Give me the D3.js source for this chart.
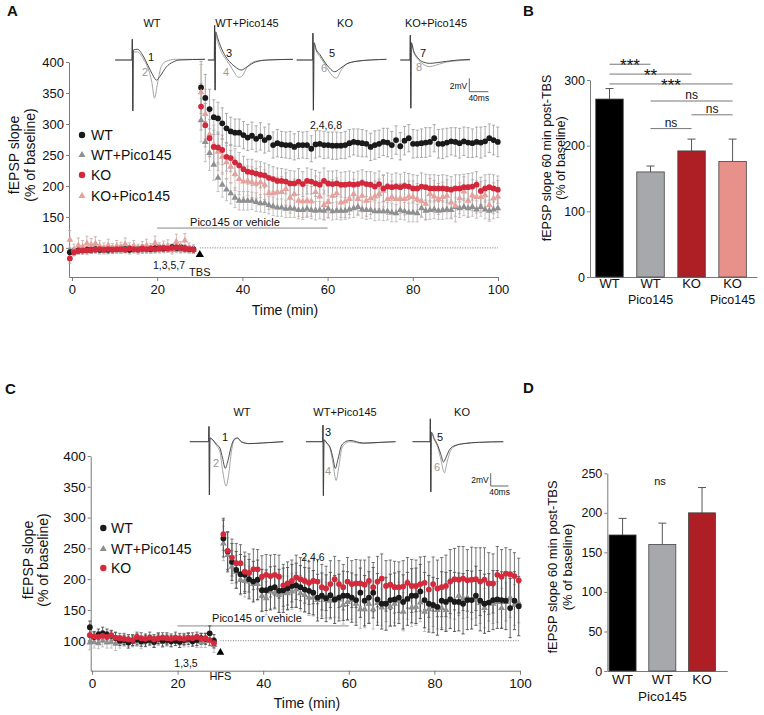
<!DOCTYPE html>
<html><head><meta charset="utf-8">
<script src="https://cdn.jsdelivr.net/npm/d3@7"></script>
<style>
body{margin:0;background:#fff;}
svg text{font-family:"Liberation Sans",Arial,Helvetica,sans-serif;fill:#111;}
</style></head><body>
<svg id="chart" width="764" height="715"></svg>
<script>
// ================= DATA =================
// Panel A (TBS) time course, % of baseline
const aTicksX = [0,20,40,60,80,100];
const aTicksY = [100,150,200,250,300,350,400];
const aWT_base = [93,95,96,96,97,97,98,97,98,97,98,98,99,98,97,99,98,99,99,98,99,100,99,100,101,100,101,99,98,98];
const aWP_base = [95,94,95,96,95,96,97,96,95,96,97,96,97,97,96,97,98,97,96,97,98,97,98,98,97,98,97,98,97,97];
const aKO_base = [83,93,95,96,96,97,97,98,97,98,97,98,98,97,99,98,97,99,98,99,98,99,100,99,100,101,100,99,98,97];
const aKP_base = [113,97,104,102,107,105,107,103,100,104,99,103,101,106,100,103,98,101,104,99,108,100,102,103,98,110,101,112,100,98];
const aWT_baseErr = [6,5,5,6,5,5,6,5,5,6,5,5,6,5,5,6,5,6,5,5,6,5,5,6,5,6,5,5,6,5];
const aWP_baseErr = [5,6,5,5,6,5,5,6,5,6,5,5,6,5,6,5,5,6,5,5,6,5,6,5,5,6,5,6,5,5];
const aKO_baseErr = [8,6,5,6,5,6,5,6,5,5,6,5,6,5,5,6,5,6,5,5,6,5,6,5,5,6,5,6,5,5];
const aKP_baseErr = [15,9,12,10,12,10,11,9,8,10,8,9,8,10,8,9,8,9,10,8,11,8,9,10,8,12,9,11,8,7];

const aWT_post = [359,342,324,311,309,301,293,288,286,286,282,278,281,276,280,274,278,266,269,267,266,266,263,266,266,266,260,267,268,266,266,265,265,265,266,
  269,271,270,269,268,263,266,268,271,270,266,274,264,273,277,268,268,269,270,271,277,268,268,270,272,271,269,272,270,269,271,270,272,277,274,271];
const aWP_post = [306,271,253,234,213,202,194,188,181,176,176,176,176,174,172,172,169,167,165,165,163,164,163,161,161,163,161,160,161,160,163,159,160,160,160,
  162,164,166,162,161,161,159,159,159,159,157,156,161,159,157,157,156,164,160,161,162,160,161,162,161,166,164,166,164,166,162,166,162,160,162,164];
const aKO_post = [328,298,277,263,262,258,247,245,238,233,227,223,222,220,218,217,213,211,208,208,207,204,204,207,203,208,207,204,202,208,204,203,204,202,202,
  203,202,203,205,203,202,199,203,196,199,198,199,198,200,199,196,196,199,198,196,196,196,196,195,194,196,196,198,198,199,202,192,196,198,196,194];
const aKP_post = [351,316,283,266,255,247,238,231,219,211,207,208,206,204,206,202,188,188,190,190,195,181,187,176,175,176,175,190,183,169,174,184,188,173,175,
  179,187,179,184,176,180,183,187,192,179,182,179,180,179,183,182,179,175,171,187,183,179,182,184,173,168,180,191,176,185,182,182,185,169,180,183];
const aWT_postErr = [42,38,32,28,26,25,24,23,22,22, 22,21,22,21,22,21,22,21,22,21, 21,22,21,22,21,22,21,22,21,22, 21,22,22,21,22,22,21,22,22,21,
  22,23,22,22,23,22,23,22,23,22, 23,22,23,24,23,22,23,24,23,22, 23,24,23,24,23,24,25,24,23,24, 24];
const aWP_postErr = [35,32,28,25,22,20,18,17,16,15, 15,15,14,15,14,15,14,15,14,14, 14,15,14,14,15,14,14,15,14,14, 15,14,14,15,14,14,15,14,14,15,
  14,15,14,15,14,15,14,15,14,15, 15,14,15,14,15,15,14,15,15,14, 15,15,14,15,15,14,15,15,14,15, 15];
const aKO_postErr = [38,35,30,27,25,24,23,22,22,21, 21,20,21,20,21,20,21,20,21,20, 20,21,20,21,20,21,20,21,20,21, 20,21,21,20,21,21,20,21,21,20,
  21,22,21,21,22,21,22,21,22,21, 22,21,22,21,22,22,21,22,22,21, 22,22,21,22,22,21,22,22,21,22, 22];
const aKP_postErr = [45,40,35,32,30,28,27,26,26,25, 25,24,25,24,25,24,26,25,24,25, 26,25,24,25,26,25,24,26,25,24, 25,26,25,24,26,25,24,25,26,25,
  26,25,24,26,25,26,25,24,26,25, 26,25,24,26,25,26,25,24,26,25, 26,25,24,26,25,26,25,24,26,25, 26];

// Panel B (TBS, 60 min post)
const bCats = ['WT','WT Pico145','KO','KO Pico145'];
const bLine1 = ['WT','WT','KO','KO'];
const bLine2 = ['','Pico145','','Pico145'];
const bValues = [271,160,192,176];
const bSem = [16,9,18,34];
const bTicks = [0,100,200,300];
const bSig = [ // [from, to, label, level (% units)]
  [0,1,'***',324],[0,2,'**',309],[0,3,'***',294],[1,3,'ns',268],[2,3,'ns',247],[1,2,'ns',226]
];

// Panel C (HFS) time course
const cTicksX = [0,20,40,60,80,100];
const cTicksY = [100,150,200,250,300,350,400];
const cWT_base = [122,106,110,112,110,108,104,100,101,97,100,102,99,100,101,98,103,100,101,99,100,98,101,103,99,101,104,103,112,100];
const cWP_base = [97,98,96,100,97,98,95,97,99,100,98,100,97,99,101,99,100,98,101,100,103,102,100,99,101,100,98,99,102,93];
const cKO_base = [109,107,106,108,106,109,105,104,103,102,101,106,104,103,105,102,104,105,104,103,105,104,103,105,104,106,103,104,101,96];
const cWT_baseErr = [10,8,9,10,9,8,9,8,8,9,8,9,8,9,8,9,8,9,8,9,8,9,8,9,8,9,8,9,12,10];
const cWP_baseErr = [12,10,9,10,9,10,11,9,8,9,8,9,10,9,8,9,8,9,10,9,8,9,10,9,8,11,9,10,9,12];
const cKO_baseErr = [9,8,9,8,9,8,9,8,9,8,9,8,9,8,9,8,9,8,9,8,9,8,9,8,9,8,9,8,9,8];
const cWT_post = [266,245,228,215,208,207,200,196,199,182, 182,185,187,181,182,185,189,190,187,183, 181,178,170,173,169,174,167,170,173,173, 170,166,178,
  165,170,178,167,160,160,166,167,170,163,168,173,173,180,166,160,158,155,165,163,167,163,163,160,166,166,173,165,160,162,166,167,166,165,153,165,156];
const cWP_post = [258,239,220,212,199,197,196,192,192,173, 169,180,178,174,178,177,180,183,177,174, 170,170,166,170,166,165,169,167,158,163, 166,160,151,
  151,160,151,161,154,162,155,160,165,147,167,154,155,162,147,151,155,150,153,150,169,166,173,169,170,166,169,161,153,163,160,163,153,163,170,158,161];
const cKO_post = [273,246,235,226,226,212,210,216,216,204, 207,205,207,204,190,193,197,203,200,197, 194,197,196,187,185,192,200,192,187,196, 192,193,193,
  191,197,187,196,201,189,191,187,187,188,194,189,189,192,194,183,192,185,187,189,196,200,199,201,198,199,200,196,199,193,193,207,204,209,208,205,198];
const cWT_postErr = [30,32,30,30,32,30,32,33,32,34, 33,35,34,35,36,34,35,36,35,36, 37,36,38,37,38,37,39,38,40,39, 40,41,40,
  41,42,41,42,41,43,42,43,42,44, 43,44,45,44,45,46,45,46,47,48, 47,48,47,49,48,47,48,49,48,47, 48,47,46,47,48,47,48];
const cWP_postErr = [28,28,27,26,25,26,25,26,27,26, 27,28,27,28,27,28,29,28,29,28, 29,30,29,30,29,30,31,30,31,30, 31,30,31,
  30,31,32,31,30,31,32,31,30,31, 32,31,30,31,32,33,32,31,32,33, 32,31,32,33,32,31,32,33,32,31, 32,33,32,31,32,33,32];
const cKO_postErr = [26,30,30,32,30,32,31,33,32,34, 33,34,33,35,34,35,34,36,35,36, 35,37,36,37,36,38,37,38,37,39, 38,39,38,
  40,39,40,41,40,41,40,42,41,42, 41,43,42,44,43,45,44,46,48,50, 52,50,54,52,50,53,51,55,52,50, 48,46,44,42,40,38,36];

// Panel D (HFS, 60 min post)
const dCats = ['WT','WT Pico145','KO'];
const dLine1 = ['WT','WT','KO'];
const dValues = [172,160,200];
const dSem = [21,27,32];
const dTicks = [0,50,100,150,200,250];

// Example fEPSP traces: [time ms relative to stimulus, mV]
const trA_WT_1 = [[-37,0],[-1.5,0],[-0.8,3.1],[0.2,-7.6],[1.5,1.5],[10,1.6],[22,0.6],[32,-0.8],[42,-2.2],[50,-3.0],[58,-2.4],[70,-1.1],[85,-0.3],[100,0],[152,0.1]];
const trA_WT_2 = [[-37,0],[-1.5,0],[-0.8,3.1],[0.2,-7.6],[1.5,1.2],[10,1.2],[22,0.2],[32,-1.2],[40,-3.2],[46,-5.7],[52,-3.6],[60,-1.0],[70,-0.2],[90,0.1],[152,0.1]];
const trA_WP_3 = [[-15,0],[-1.5,0],[-0.8,5.2],[0.2,-4.5],[1.5,4.2],[6,3.2],[12,2.0],[20,0.8],[30,-0.2],[42,-1.0],[55,-1.5],[68,-1.0],[85,-0.3],[110,0],[164,0.1]];
const trA_WP_4 = [[-15,0],[-1.5,0],[-0.8,5.2],[0.2,-4.5],[1.5,3.8],[6,2.6],[12,1.4],[20,0.4],[30,-0.6],[40,-1.8],[50,-2.6],[58,-2.3],[68,-1.0],[85,-0.2],[110,0],[164,0.1]];
const trA_KO_5 = [[-35,0],[-1.5,0],[-0.8,4.0],[0.2,-7.5],[1.5,2.6],[6,1.6],[14,0.8],[24,-0.3],[34,-1.2],[45,-1.75],[56,-1.3],[70,-0.6],[90,-0.2],[120,0],[154,0.1]];
const trA_KO_6 = [[-35,0],[-1.5,0],[-0.8,4.0],[0.2,-7.5],[1.5,2.4],[6,1.4],[14,0.5],[24,-0.6],[34,-1.8],[44,-2.6],[49,-2.7],[58,-1.6],[70,-0.6],[90,-0.2],[120,0],[154,0.1]];
const trA_KP_7 = [[-22,0],[-1.5,0],[-0.8,3.7],[0.2,-7.2],[1.5,2.6],[6,1.4],[14,0.4],[26,-0.3],[40,-0.5],[55,-0.4],[75,-0.2],[100,0],[125,0.1]];
const trA_KP_8 = [[-22,0],[-1.5,0],[-0.8,3.7],[0.2,-7.2],[1.5,2.4],[6,1.2],[14,0.2],[26,-0.6],[40,-1.0],[52,-0.8],[70,-0.4],[100,-0.1],[125,0]];
const trC_WT_1 = [[-44,0],[-1.5,0],[-0.8,2.4],[0.2,-8.4],[1.5,0.6],[8,0.3],[16,-0.4],[24,-1.0],[30,-2.6],[36,-4.2],[42,-3.0],[50,-0.6],[58,0.5],[64,0.6],[72,0],[90,-0.3],[120,-0.2],[167,0]];
const trC_WT_2 = [[-44,0],[-1.5,0],[-0.8,2.4],[0.2,-8.4],[1.5,0.5],[8,0.2],[16,-0.6],[24,-1.6],[30,-4.5],[38,-7.0],[44,-5.0],[50,-1.5],[58,0.4],[64,0.5],[72,0],[90,-0.3],[120,-0.2],[167,0]];
const trC_WP_3 = [[-39,0],[-1.5,0],[-0.8,2.6],[0.2,-8.5],[1.5,0.3],[8,-0.2],[16,-1.0],[22,-2.6],[27,-4.2],[33,-2.8],[40,-0.8],[48,-0.1],[60,0.2],[90,-0.2],[130,-0.1],[163,0]];
const trC_WP_4 = [[-39,0],[-1.5,0],[-0.8,2.6],[0.2,-8.5],[1.5,0.2],[8,-0.3],[16,-1.3],[22,-3.5],[29,-6.1],[35,-4.0],[42,-1.0],[50,-0.3],[60,0],[90,-0.3],[130,-0.1],[163,0]];
const trC_KO_5 = [[-41,0],[-1.5,0],[-0.8,3.6],[0.2,-7.9],[1.5,1.5],[8,0.5],[16,-0.6],[23,-2.0],[29,-3.2],[35,-2.4],[43,-1.2],[55,-0.6],[75,-0.3],[110,-0.1],[164,0]];
const trC_KO_6 = [[-41,0],[-1.5,0],[-0.8,3.6],[0.2,-7.9],[1.5,1.3],[8,0.3],[16,-0.9],[23,-2.8],[31,-4.9],[37,-3.2],[45,-1.4],[55,-0.7],[75,-0.3],[110,-0.1],[164,0]];

// ================= DRAWING =================
const svg = d3.select('#chart');
const AX = '#7a7a7a';

function styleAxis(sel, fs){
  sel.attr('font-family', null);
  sel.selectAll('path').attr('stroke', AX).attr('stroke-width', 1);
  sel.selectAll('line').attr('stroke', AX).attr('stroke-width', 1);
  sel.selectAll('text').attr('font-size', fs).attr('fill', '#111');
}
function panelLetter(t, x, y){
  svg.append('text').attr('x', x).attr('y', y).attr('font-size', 15).attr('font-weight', 'bold').text(t);
}
function yLabel(lines, cx, cy, fs){
  lines.forEach((l, i) => {
    svg.append('text').attr('transform', `translate(${cx[i]},${cy}) rotate(-90)`)
      .attr('text-anchor', 'middle').attr('font-size', fs).text(l);
  });
}

function timeCourse(x, y, series, tBase, tPost, r, tri){
  const g = svg.append('g');
  const prepared = series.map(s => {
    const v = s.base.concat(s.post), e = s.baseErr.concat(s.postErr), t = tBase.concat(tPost);
    return {s, pts: v.map((val, i) => ({t: t[i], v: val, e: e[i] || 0}))};
  });
  prepared.forEach(({s, pts}) => {
    const eg = g.append('g').attr('stroke', s.errColor).attr('stroke-width', 0.8);
    pts.forEach(p => {
      const xx = x(p.t);
      eg.append('line').attr('x1', xx).attr('x2', xx).attr('y1', y(p.v - p.e)).attr('y2', y(p.v + p.e));
      eg.append('line').attr('x1', xx - 1.6).attr('x2', xx + 1.6).attr('y1', y(p.v + p.e)).attr('y2', y(p.v + p.e));
      eg.append('line').attr('x1', xx - 1.6).attr('x2', xx + 1.6).attr('y1', y(p.v - p.e)).attr('y2', y(p.v - p.e));
    });
  });
  prepared.forEach(({s, pts}) => {
    const mg = g.append('g').attr('fill', s.color);
    if (s.shape === 'circle') {
      mg.selectAll('circle').data(pts).join('circle').attr('cx', d => x(d.t)).attr('cy', d => y(d.v)).attr('r', r);
    } else {
      const sym = d3.symbol().type(d3.symbolTriangle).size(tri);
      mg.selectAll('path').data(pts).join('path').attr('d', sym).attr('transform', d => `translate(${x(d.t)},${y(d.v)})`);
    }
  });
}

function legend(items, mx, tx, ys, r, tri, fs){
  items.forEach((s, i) => {
    if (s.shape === 'circle') svg.append('circle').attr('cx', mx).attr('cy', ys[i]).attr('r', r).attr('fill', s.color);
    else svg.append('path').attr('d', d3.symbol().type(d3.symbolTriangle).size(tri)).attr('transform', `translate(${mx},${ys[i]})`).attr('fill', s.color);
    svg.append('text').attr('x', tx).attr('y', ys[i] + fs * 0.36).attr('font-size', fs).text(s.name);
  });
}

function drawTrace(stimX, baseY, pxMs, pxMv, pts, color){
  const tx = d3.scaleLinear().domain([0, 40]).range([stimX, stimX + 40 * pxMs]);
  const ty = d3.scaleLinear().domain([0, 2]).range([baseY, baseY - 2 * pxMv]);
  const line = d3.line().x(d => tx(d[0])).y(d => ty(d[1])).curve(d3.curveMonotoneX);
  svg.append('path').attr('d', line(pts)).attr('fill', 'none').attr('stroke', color).attr('stroke-width', 0.9);
}
function scaleBar(x0, y0, pxMs, pxMv, fs){
  const g = svg.append('g').attr('stroke', '#555').attr('stroke-width', 0.9);
  g.append('line').attr('x1', x0).attr('x2', x0).attr('y1', y0).attr('y2', y0 - 2 * pxMv);
  g.append('line').attr('x1', x0).attr('x2', x0 + 40 * pxMs).attr('y1', y0).attr('y2', y0);
  svg.append('text').attr('x', x0 - 2).attr('y', y0 - 3).attr('text-anchor', 'end').attr('font-size', fs).text('2mV');
  svg.append('text').attr('x', x0 + 20 * pxMs).attr('y', y0 + fs + 0.5).attr('text-anchor', 'middle').attr('font-size', fs).text('40ms');
}

// ---------- Panel A ----------
panelLetter('A', 7, 16);
const xA = d3.scaleLinear().domain([-0.7, 100]).range([69, 498]);
const yA = d3.scaleLinear().domain([53, 400]).range([277, 62]);
const tBaseA = d3.range(aWT_base.length).map(i => i - 0.5);
const tPostA = d3.range(aWT_post.length).map(i => 30.3 + i * 0.995);
svg.append('g').attr('transform', 'translate(0,277)')
  .call(d3.axisBottom(xA).tickValues(aTicksX).tickSize(4).tickPadding(4).tickSizeOuter(0))
  .call(s => styleAxis(s, 13));
svg.append('g').attr('transform', 'translate(69,0)')
  .call(d3.axisLeft(yA).tickValues(aTicksY).tickSize(3).tickPadding(2).tickSizeOuter(0))
  .call(s => styleAxis(s, 13));
svg.append('text').attr('x', 285).attr('y', 315).attr('text-anchor', 'middle').attr('font-size', 14).text('Time (min)');
yLabel(['fEPSP slope', '(% of baseline)'], [19, 35], 155, 14);
// dotted baseline
svg.append('line').attr('x1', xA(30)).attr('x2', xA(100)).attr('y1', yA(100)).attr('y2', yA(100))
  .attr('stroke', '#555').attr('stroke-width', 0.8).attr('stroke-dasharray', '1,1.5');
// drug bar
svg.append('line').attr('x1', xA(20)).attr('x2', xA(60)).attr('y1', yA(132)).attr('y2', yA(132)).attr('stroke', '#888').attr('stroke-width', 1);
svg.append('text').attr('x', 235).attr('y', 226).attr('text-anchor', 'middle').attr('font-size', 11).text('Pico145 or vehicle');

const seriesA = [
  {name:'WT+Pico145', base:aWP_base, baseErr:aWP_baseErr, post:aWP_post, postErr:aWP_postErr, shape:'tri', color:'#8e8f91', errColor:'#b5b5b5'},
  {name:'WT', base:aWT_base, baseErr:aWT_baseErr, post:aWT_post, postErr:aWT_postErr, shape:'circle', color:'#1a1a1a', errColor:'#9a9a9a'},
  {name:'KO+Pico145', base:aKP_base, baseErr:aKP_baseErr, post:aKP_post, postErr:aKP_postErr, shape:'tri', color:'#e6a19c', errColor:'#c8a9a6'},
  {name:'KO', base:aKO_base, baseErr:aKO_baseErr, post:aKO_post, postErr:aKO_postErr, shape:'circle', color:'#d3283b', errColor:'#a5a5a5'}
];
timeCourse(xA, yA, seriesA, tBaseA, tPostA, 2.9, 20);
legend([seriesA[1], seriesA[0], seriesA[3], seriesA[2]], 82, 91, [135, 155, 175, 196], 3.2, 22, 14);
// TBS marker
svg.append('path').attr('d', d3.symbol().type(d3.symbolTriangle).size(30)).attr('transform', `translate(${xA(30)},${yA(89)})`).attr('fill', '#000');
svg.append('text').attr('x', xA(30)).attr('y', 276).attr('text-anchor', 'middle').attr('font-size', 11).text('TBS');
svg.append('text').attr('x', 169).attr('y', 269).attr('text-anchor', 'middle').attr('font-size', 10.5).text('1,3,5,7');
svg.append('text').attr('x', 326).attr('y', 129).attr('text-anchor', 'middle').attr('font-size', 10.5).text('2,4,6,8');

// traces A
const pxMsA = 0.475, pxMvA = 6.7;
const insetsA = [
  {title:'WT', tx:152, stim:132.7, k:trA_WT_1, g:trA_WT_2, nk:'1', pk:[151,57], ng:'2', pg:[145,72]},
  {title:'WT+Pico145', tx:247, stim:215, k:trA_WP_3, g:trA_WP_4, nk:'3', pk:[229,53], ng:'4', pg:[226,72]},
  {title:'KO', tx:345, stim:313.3, k:trA_KO_5, g:trA_KO_6, nk:'5', pk:[332,53], ng:'6', pg:[324,68]},
  {title:'KO+Pico145', tx:436, stim:410.7, k:trA_KP_7, g:trA_KP_8, nk:'7', pk:[423,53], ng:'8', pg:[419,67]}
];
insetsA.forEach(o => {
  svg.append('text').attr('x', o.tx).attr('y', 26.5).attr('text-anchor', 'middle').attr('font-size', 11).text(o.title);
  drawTrace(o.stim, 60, pxMsA, pxMvA, o.g, '#9a9a9a');
  drawTrace(o.stim, 60, pxMsA, pxMvA, o.k, '#3a3a3a');
  svg.append('text').attr('x', o.pk[0]).attr('y', o.pk[1] + 4).attr('text-anchor', 'middle').attr('font-size', 11).attr('fill', '#222').text(o.nk);
  svg.append('text').attr('x', o.pg[0]).attr('y', o.pg[1] + 4).attr('text-anchor', 'middle').attr('font-size', 11).style('fill', '#999').text(o.ng);
});
scaleBar(469.3, 91.7, pxMsA, pxMvA, 8.5);

// ---------- Panel B ----------
panelLetter('B', 523, 16);
const xB = d3.scaleBand().domain(bCats).range([590, 757]).paddingInner(0.33).paddingOuter(0.2).align(0.35);
const yB = d3.scaleLinear().domain([0, 300]).range([277, 80]);
svg.append('g').attr('transform', 'translate(590,0)')
  .call(d3.axisLeft(yB).tickValues(bTicks).tickSize(3).tickPadding(2).tickSizeOuter(0))
  .call(s => styleAxis(s, 12.5));
svg.append('g').attr('transform', 'translate(0,277)')
  .call(d3.axisBottom(xB).tickSize(0).tickPadding(2).tickFormat((d, i) => bLine1[i]))
  .call(s => styleAxis(s, 13));
bCats.forEach((c, i) => {
  if (bLine2[i]) svg.append('text').attr('x', xB(c) + xB.bandwidth() / 2).attr('y', 304).attr('text-anchor', 'middle').attr('font-size', 12.5).text(bLine2[i]);
});
const bColors = ['#000000', '#a7a8ab', '#ae1f25', '#e8918b'];
const gB = svg.append('g');
bCats.forEach((c, i) => {
  const cx = xB(c) + xB.bandwidth() / 2;
  gB.append('line').attr('x1', cx).attr('x2', cx).attr('y1', yB(bValues[i])).attr('y2', yB(bValues[i] + bSem[i])).attr('stroke', '#555').attr('stroke-width', 1);
  gB.append('line').attr('x1', cx - 4).attr('x2', cx + 4).attr('y1', yB(bValues[i] + bSem[i])).attr('y2', yB(bValues[i] + bSem[i])).attr('stroke', '#555').attr('stroke-width', 1);
});
gB.selectAll('rect').data(bValues).join('rect')
  .attr('x', (d, i) => xB(bCats[i])).attr('width', xB.bandwidth())
  .attr('y', d => yB(d)).attr('height', d => yB(0) - yB(d))
  .attr('fill', (d, i) => bColors[i]).attr('stroke', '#444').attr('stroke-width', 0.8);
bSig.forEach(([a, b, lab, lev]) => {
  const x1 = xB(bCats[a]) + xB.bandwidth() / 2, x2 = xB(bCats[b]) + xB.bandwidth() / 2, yy = yB(lev);
  svg.append('line').attr('x1', x1).attr('x2', x2).attr('y1', yy).attr('y2', yy).attr('stroke', '#777').attr('stroke-width', 1);
  const star = lab.indexOf('*') >= 0;
  svg.append('text').attr('x', (x1 + x2) / 2).attr('y', star ? yy + 7 : yy - 2).attr('text-anchor', 'middle')
    .attr('font-size', star ? 17 : 12).text(lab);
});
yLabel(['fEPSP slope  60 min post-TBS', '(% of baseline)'], [551, 565], 158, 12.5);

// ---------- Panel C ----------
panelLetter('C', 5, 394);
const xC = d3.scaleLinear().domain([-0.3, 100]).range([90.7, 520]);
const yC = d3.scaleLinear().domain([51.3, 400]).range([670.7, 456]);
const tBaseC = d3.range(cWT_base.length).map(i => i - 0.5);
const tPostC = d3.range(cWT_post.length).map(i => 30.7 + i);
svg.append('g').attr('transform', 'translate(0,670.7)')
  .call(d3.axisBottom(xC).tickValues(cTicksX).tickSize(4).tickPadding(4).tickSizeOuter(0))
  .call(s => styleAxis(s, 13.5));
svg.append('g').attr('transform', 'translate(90.7,0)')
  .call(d3.axisLeft(yC).tickValues(cTicksY).tickSize(3).tickPadding(2).tickSizeOuter(0))
  .call(s => styleAxis(s, 13.5));
svg.append('text').attr('x', 307).attr('y', 708).attr('text-anchor', 'middle').attr('font-size', 14).text('Time (min)');
yLabel(['fEPSP slope', '(% of baseline)'], [33, 48], 560, 14);
svg.append('line').attr('x1', xC(30)).attr('x2', xC(100)).attr('y1', yC(100)).attr('y2', yC(100))
  .attr('stroke', '#555').attr('stroke-width', 0.8).attr('stroke-dasharray', '1,1.5');
svg.append('line').attr('x1', xC(20)).attr('x2', xC(60)).attr('y1', yC(124)).attr('y2', yC(124)).attr('stroke', '#888').attr('stroke-width', 1);
svg.append('text').attr('x', 257).attr('y', 622).attr('text-anchor', 'middle').attr('font-size', 11).text('Pico145 or vehicle');
const seriesC = [
  {name:'WT+Pico145', base:cWP_base, baseErr:cWP_baseErr, post:cWP_post, postErr:cWP_postErr, shape:'tri', color:'#8f8f91', errColor:'#b0b0b0'},
  {name:'WT', base:cWT_base, baseErr:cWT_baseErr, post:cWT_post, postErr:cWT_postErr, shape:'circle', color:'#1a1a1a', errColor:'#3a3a3a'},
  {name:'KO', base:cKO_base, baseErr:cKO_baseErr, post:cKO_post, postErr:cKO_postErr, shape:'circle', color:'#d42a3c', errColor:'#555555'}
];
timeCourse(xC, yC, seriesC, tBaseC, tPostC, 2.9, 20);
legend([seriesC[1], seriesC[0], seriesC[2]], 103.3, 111, [528, 549, 568], 3.2, 22, 14);
svg.append('path').attr('d', d3.symbol().type(d3.symbolTriangle).size(26)).attr('transform', `translate(${xC(30)},${yC(81)})`).attr('fill', '#000');
svg.append('text').attr('x', xC(30)).attr('y', 680).attr('text-anchor', 'middle').attr('font-size', 11).text('HFS');
svg.append('text').attr('x', 186).attr('y', 667).attr('text-anchor', 'middle').attr('font-size', 10.5).text('1,3,5');
svg.append('text').attr('x', 313).attr('y', 561).attr('text-anchor', 'middle').attr('font-size', 10.5).text('2,4,6');

const pxMsC = 0.443, pxMvC = 6.35;
const insetsC = [
  {title:'WT', tx:242, stim:209.3, k:trC_WT_1, g:trC_WT_2, nk:'1', pk:[225,437], ng:'2', pg:[216,463]},
  {title:'WT+Pico145', tx:345, stim:323.3, k:trC_WP_3, g:trC_WP_4, nk:'3', pk:[328,432], ng:'4', pg:[328,471]},
  {title:'KO', tx:462, stim:430.7, k:trC_KO_5, g:trC_KO_6, nk:'5', pk:[440,437], ng:'6', pg:[437,467]}
];
insetsC.forEach(o => {
  svg.append('text').attr('x', o.tx).attr('y', 415.5).attr('text-anchor', 'middle').attr('font-size', 11).text(o.title);
  drawTrace(o.stim, 441.7, pxMsC, pxMvC, o.g, '#9a9a9a');
  drawTrace(o.stim, 441.7, pxMsC, pxMvC, o.k, '#3a3a3a');
  svg.append('text').attr('x', o.pk[0]).attr('y', o.pk[1] + 4).attr('text-anchor', 'middle').attr('font-size', 11).text(o.nk);
  svg.append('text').attr('x', o.pg[0]).attr('y', o.pg[1] + 4).attr('text-anchor', 'middle').attr('font-size', 11).style('fill', '#999').text(o.ng);
});
scaleBar(490.7, 486, pxMsC, pxMvC, 8.5);

// ---------- Panel D ----------
panelLetter('D', 523, 393);
const xD = d3.scaleBand().domain(dCats).range([607.3, 727.3]).paddingInner(0.32).paddingOuter(0.17).align(0.13);
const yD = d3.scaleLinear().domain([0, 250]).range([671, 473.3]);
svg.append('g').attr('transform', 'translate(607.3,0)')
  .call(d3.axisLeft(yD).tickValues(dTicks).tickSize(3).tickPadding(2).tickSizeOuter(0))
  .call(s => styleAxis(s, 12.5));
svg.append('g').attr('transform', 'translate(0,671)')
  .call(d3.axisBottom(xD).tickSize(0).tickPadding(3).tickFormat((d, i) => dLine1[i]))
  .call(s => styleAxis(s, 13.5));
svg.append('text').attr('x', xD(dCats[1]) + xD.bandwidth() / 2).attr('y', 701).attr('text-anchor', 'middle').attr('font-size', 13.5).text('Pico145');
const dColors = ['#000000', '#a7a8ab', '#ae1f25'];
const gD = svg.append('g');
dCats.forEach((c, i) => {
  const cx = xD(c) + xD.bandwidth() / 2;
  gD.append('line').attr('x1', cx).attr('x2', cx).attr('y1', yD(dValues[i])).attr('y2', yD(dValues[i] + dSem[i])).attr('stroke', '#555').attr('stroke-width', 1);
  gD.append('line').attr('x1', cx - 4).attr('x2', cx + 4).attr('y1', yD(dValues[i] + dSem[i])).attr('y2', yD(dValues[i] + dSem[i])).attr('stroke', '#555').attr('stroke-width', 1);
});
gD.selectAll('rect').data(dValues).join('rect')
  .attr('x', (d, i) => xD(dCats[i])).attr('width', xD.bandwidth())
  .attr('y', d => yD(d)).attr('height', d => yD(0) - yD(d))
  .attr('fill', (d, i) => dColors[i]).attr('stroke', '#444').attr('stroke-width', 0.8);
svg.append('text').attr('x', 660).attr('y', 485).attr('text-anchor', 'middle').attr('font-size', 11).text('ns');
yLabel(['fEPSP slope 60 min post-TBS', '(% of baseline)'], [557, 572], 567, 13);
</script>
</body></html>
